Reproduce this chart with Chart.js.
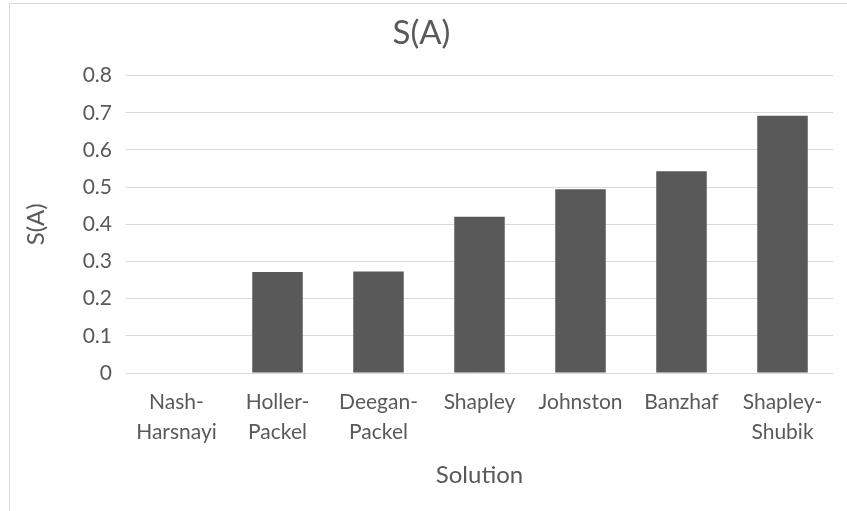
<!DOCTYPE html>
<html>
<head>
<meta charset="utf-8">
<script src="https://cdn.jsdelivr.net/npm/chart.js@4.4.0/dist/chart.umd.min.js"></script>
<style>
    html, body { margin: 0; padding: 0; background: #fff; overflow: hidden; }
    #frame {
        position: absolute;
        left: 9px;
        top: 3px;
        width: 846px;
        height: 520px;
        border-left: 1px solid #d9d9d9;
        border-top: 1px solid #d9d9d9;
    }
</style>
</head>
<body>
<div id="frame">
    <canvas id="saChart" width="846" height="508"></canvas>
</div>
<script>
// Solution concepts and their S(A) values
const solutions = [
    ['Nash-', 'Harsnayi'],
    ['Holler-', 'Packel'],
    ['Deegan-', 'Packel'],
    'Shapley',
    'Johnston',
    'Banzhaf',
    ['Shapley-', 'Shubik']
];
const sValues = [0, 0.272, 0.273, 0.42, 0.494, 0.543, 0.692];
const yTicks = [0, 0.1, 0.2, 0.3, 0.4, 0.5, 0.6, 0.7, 0.8];

const textColor = '#595959';
const gridColor = '#d9d9d9';
const fontFamily = 'Lato, "Open Sans", sans-serif';

new Chart(document.getElementById('saChart'), {
    type: 'bar',
    data: {
        labels: solutions,
        datasets: [{
            label: 'S(A)',
            data: sValues,
            backgroundColor: '#595959',
            borderWidth: 0,
            barPercentage: 0.5,
            categoryPercentage: 1
        }]
    },
    options: {
        responsive: false,
        animation: false,
        layout: { padding: { left: 0, right: 23, top: 0, bottom: 0 } },
        plugins: {
            legend: { display: false },
            tooltip: { enabled: false },
            title: {
                display: true,
                text: 'S(A)',
                color: textColor,
                font: { family: fontFamily, size: 33, weight: 'normal' },
                padding: { top: 10, bottom: 22 }
            }
        },
        scales: {
            x: {
                grid: { display: false, drawTicks: false },
                border: { display: false },
                ticks: {
                    color: textColor,
                    padding: 14,
                    maxRotation: 0,
                    autoSkip: false,
                    font: { family: fontFamily, size: 21, lineHeight: 1.45 }
                },
                title: {
                    display: true,
                    text: 'Solution',
                    color: textColor,
                    font: { family: fontFamily, size: 24 },
                    padding: { top: 0, bottom: 22 }
                },
                afterFit: scale => { scale.height = 139; }
            },
            y: {
                min: 0,
                max: 0.8,
                afterBuildTicks: scale => {
                    scale.ticks = yTicks.map(v => ({ value: v }));
                },
                grid: { color: gridColor, lineWidth: 1, drawTicks: false },
                border: { display: false },
                ticks: {
                    color: textColor,
                    padding: 14,
                    font: { family: fontFamily, size: 21 },
                    callback: v => String(Math.round(v * 10) / 10)
                },
                title: {
                    display: true,
                    text: 'S(A)',
                    color: textColor,
                    font: { family: fontFamily, size: 24 },
                    padding: { top: 12, bottom: 0 }
                },
                afterFit: scale => { scale.width = 116; }
            }
        }
    }
});
</script>
</body>
</html>
